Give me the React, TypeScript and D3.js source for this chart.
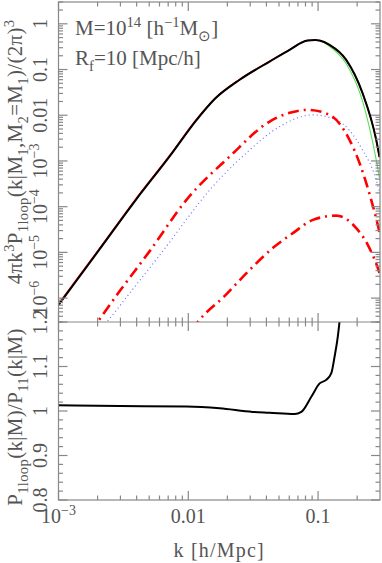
import React from "react";
import * as d3 from "d3";

// ---------- data ----------
// top panel: 4πk³P(k)/(2π)³ curves
const totalK = [0.001, 0.002084, 0.003945, 0.00723, 0.01161, 0.01606, 0.02489, 0.04236, 0.0604, 0.083, 0.095, 0.1028, 0.1225, 0.1648, 0.2198, 0.2805, 0.2972];
const totalV = [7.1e-7, 1.19e-5, 1.41e-4, 1.29e-3, 7.94e-3, 0.0229, 5.96e-2, 0.1496, 0.27, 0.4315, 0.44, 0.43, 0.3467, 0.163, 0.0309, 2.9e-3, 1.23e-3];

const redSolidK = [0.001, 0.002084, 0.003945, 0.00723, 0.01161, 0.01606, 0.02489, 0.04236, 0.0604, 0.083, 0.095, 0.1028, 0.1225, 0.1648, 0.2198, 0.2805, 0.2972];
const redSolidV = [7.5e-7, 1.25e-5, 1.48e-4, 1.35e-3, 8.3e-3, 0.0236, 6.1e-2, 0.152, 0.273, 0.433, 0.44, 0.43, 0.345, 0.161, 0.0305, 2.85e-3, 1.2e-3];

const greenK = [0.001, 0.002084, 0.003945, 0.00723, 0.01161, 0.01606, 0.02489, 0.04236, 0.0604, 0.083, 0.095, 0.1028, 0.1225, 0.1648, 0.2198, 0.2805, 0.2972];
const greenV = [7.1e-7, 1.19e-5, 1.41e-4, 1.29e-3, 7.94e-3, 0.0229, 5.96e-2, 0.1496, 0.27, 0.4315, 0.437, 0.4246, 0.322, 0.1334, 0.02065, 1.057e-3, 4.27e-4];

const dashUpperK = [0.001746, 0.002972, 0.005058, 0.009683, 0.02084, 0.04236, 0.0604, 0.0836, 0.1225, 0.1746, 0.2084, 0.2438, 0.2884, 0.2972];
const dashUpperV = [1.74e-7, 1.44e-6, 1.08e-5, 1.41e-4, 1.25e-3, 7.28e-3, 0.0113, 0.0131, 0.0102, 2.9e-3, 9.08e-4, 2.33e-4, 4.0e-5, 2.81e-5];

const dashLowerK = [0.01064, 0.01183, 0.0191, 0.02972, 0.04624, 0.06397, 0.0912, 0.138, 0.1968, 0.2415, 0.2884, 0.2972];
const dashLowerV = [2.01e-7, 3.01e-7, 1.117e-6, 4.14e-6, 1.34e-5, 2.63e-5, 5.14e-5, 6.38e-5, 3.39e-5, 1.46e-5, 4.58e-6, 3.56e-6];

const dottedK = [0.002084, 0.00236, 0.003548, 0.00604, 0.01542, 0.02805, 0.05058, 0.0912, 0.138, 0.2198, 0.2805, 0.2972];
const dottedV = [2.01e-7, 3.01e-7, 1.3e-6, 8.81e-6, 2.75e-4, 1.5e-3, 5.66e-3, 0.0102, 7.92e-3, 1.75e-3, 3.85e-4, 2.11e-4];

// bottom panel: ratio P1loop / P11
const ratioK = [0.001, 0.002972, 0.00968, 0.01746, 0.03133, 0.04236, 0.0659, 0.0743, 0.0887, 0.1028, 0.1156, 0.1265, 0.134, 0.1419, 0.1462, 0.1517];
const ratioV = [1.013, 1.011, 1.01, 1.006, 0.998, 0.996, 0.993, 0.998, 1.032, 1.062, 1.07, 1.085, 1.122, 1.167, 1.2, 1.25];

// tick labels
const xMajor = [0.001, 0.01, 0.1];
const xLabels = [["10", "−3"], ["0.01", ""], ["0.1", ""]];
const yTopMajor = [1, 0.1, 0.01, 1e-3, 1e-4, 1e-5, 1e-6];
const yTopLabels = [["1", ""], ["0.1", ""], ["0.01", ""], ["10", "−3"], ["10", "−4"], ["10", "−5"], ["10", "−6"]];
const yBotMajor = [0.8, 0.9, 1.0, 1.1, 1.2];
const yBotLabels = ["0.8", "0.9", "1", "1.1", "1.2"];

// ---------- layout ----------
const W = 382, H = 563;
const L = 58.5, R = 380, T = 2, MID = 322, B = 500;
const AX = "#888";
const TXT = "#555";
const FONT = "'Liberation Serif', 'Times New Roman', serif";

const x = d3.scaleLog().domain([1e-3, 0.3]).range([L, R]);
const yT = d3.scaleLog().domain([3e-7, 3]).range([MID, T]);
const yB = d3.scaleLinear().domain([0.8, 1.2]).range([B, MID]);

const zip = (ks: number[], vs: number[]) => ks.map((k, i) => [k, vs[i]] as [number, number]);

const lineTop = d3.line<[number, number]>().x(d => x(d[0])).y(d => yT(d[1])).curve(d3.curveMonotoneX);
const lineBot = d3.line<[number, number]>().x(d => x(d[0])).y(d => yB(d[1])).curve(d3.curveMonotoneX);

// minor ticks
const xMinor: number[] = [];
for (let e = -3; e <= -1; e++) for (let m = 2; m <= 9; m++) { const v = m * Math.pow(10, e); if (v <= 0.3) xMinor.push(v); }
const yTopMinor: number[] = [];
for (let e = -7; e <= 0; e++) for (let m = 2; m <= 9; m++) { const v = m * Math.pow(10, e); if (v >= 3e-7 && v <= 3) yTopMinor.push(v); }
const yBotMinor: number[] = d3.range(0.82, 1.2, 0.02).filter(v => Math.abs(v * 10 - Math.round(v * 10)) > 1e-6);

type Seg = { t: string; s?: number };
function RichText({ segs, size, ...rest }: { segs: Seg[]; size: number; [k: string]: any }) {
  let cur = 0;
  return (
    <text {...rest} fontSize={size}>
      {segs.map((sg, i) => {
        const lvl = sg.s || 0;
        const off = lvl === 1 ? -0.38 * size : lvl === -1 ? 0.3 * size : 0;
        const dy = off - cur;
        cur = off;
        return (
          <tspan key={i} dy={dy} fontSize={lvl === 0 ? size : size * 0.7}>
            {sg.t}
          </tspan>
        );
      })}
    </text>
  );
}

export default function App() {
  const MAJ = 9, MIN = 4.5;
  const ticks: JSX.Element[] = [];
  let n = 0;
  for (const v of xMajor) {
    const px = x(v);
    ticks.push(<line key={n++} x1={px} x2={px} y1={T} y2={T + MAJ} />);
    ticks.push(<line key={n++} x1={px} x2={px} y1={MID - MAJ} y2={MID + MAJ} />);
    ticks.push(<line key={n++} x1={px} x2={px} y1={B} y2={B - MAJ} />);
  }
  for (const v of xMinor) {
    const px = x(v);
    ticks.push(<line key={n++} x1={px} x2={px} y1={T} y2={T + MIN} />);
    ticks.push(<line key={n++} x1={px} x2={px} y1={MID - MIN} y2={MID + MIN} />);
    ticks.push(<line key={n++} x1={px} x2={px} y1={B} y2={B - MIN} />);
  }
  for (const v of yTopMajor) {
    const py = yT(v);
    ticks.push(<line key={n++} x1={L} x2={L + MAJ} y1={py} y2={py} />);
    ticks.push(<line key={n++} x1={R} x2={R - MAJ} y1={py} y2={py} />);
  }
  for (const v of yTopMinor) {
    const py = yT(v);
    ticks.push(<line key={n++} x1={L} x2={L + MIN} y1={py} y2={py} />);
    ticks.push(<line key={n++} x1={R} x2={R - MIN} y1={py} y2={py} />);
  }
  for (const v of yBotMajor) {
    const py = yB(v);
    ticks.push(<line key={n++} x1={L} x2={L + MAJ} y1={py} y2={py} />);
    ticks.push(<line key={n++} x1={R} x2={R - MAJ} y1={py} y2={py} />);
  }
  for (const v of yBotMinor) {
    const py = yB(v);
    ticks.push(<line key={n++} x1={L} x2={L + MIN} y1={py} y2={py} />);
    ticks.push(<line key={n++} x1={R} x2={R - MIN} y1={py} y2={py} />);
  }

  return (
    <svg width={W} height={H} style={{ position: "absolute", left: 0, top: 0, background: "#fff" }} fontFamily={FONT}>
      <defs>
        <clipPath id="cTop"><rect x={L} y={T} width={R - L} height={MID - T} /></clipPath>
        <clipPath id="cBot"><rect x={L} y={MID} width={R - L} height={B - MID} /></clipPath>
      </defs>

      {/* top panel curves */}
      <g clipPath="url(#cTop)" fill="none">
        <path d={lineTop(zip(greenK, greenV))!} stroke="#55e055" strokeWidth={1.1} />
        <path d={lineTop(zip(redSolidK, redSolidV))!} stroke="#ff0000" strokeWidth={1.4} />
        <path d={lineTop(zip(dottedK, dottedV))!} stroke="#7070ff" strokeWidth={1.2} strokeDasharray="1 3" />
        <path d={lineTop(zip(dashUpperK, dashUpperV))!} stroke="#ff0000" strokeWidth={2.6} strokeDasharray="11 5 2 5" />
        <path d={lineTop(zip(dashLowerK, dashLowerV))!} stroke="#ff0000" strokeWidth={2.6} strokeDasharray="11 5 2 5" />
        <path d={lineTop(zip(totalK, totalV))!} stroke="#000" strokeWidth={2} />
      </g>

      {/* bottom panel curve */}
      <g clipPath="url(#cBot)" fill="none">
        <path d={lineBot(zip(ratioK, ratioV))!} stroke="#000" strokeWidth={2} />
      </g>

      {/* frames */}
      <g stroke={AX} strokeWidth={1.2} fill="none">
        <rect x={L} y={T} width={R - L} height={B - T} />
        <line x1={L} x2={R} y1={MID} y2={MID} />
        {ticks}
      </g>

      {/* x tick labels */}
      <g fill={TXT} fontSize={20} textAnchor="middle">
        {xMajor.map((v, i) => (
          <text key={i} x={x(v)} y={523}>
            {xLabels[i][0]}
            {xLabels[i][1] && <tspan dy={-8} fontSize={14}>{xLabels[i][1]}</tspan>}
          </text>
        ))}
      </g>

      {/* y tick labels (rotated) */}
      <g fill={TXT} fontSize={20} textAnchor="middle">
        {yTopMajor.map((v, i) => (
          <text key={i} transform={`translate(47,${yT(v)}) rotate(-90)`}>
            {yTopLabels[i][0]}
            {yTopLabels[i][1] && <tspan dy={-8} fontSize={14}>{yTopLabels[i][1]}</tspan>}
          </text>
        ))}
        {yBotMajor.map((v, i) => (
          <text key={"b" + i} transform={`translate(47,${yB(v)}) rotate(-90)`}>
            {yBotLabels[i]}
          </text>
        ))}
      </g>

      {/* axis titles */}
      <text x={(L + R) / 2} y={557} fill={TXT} fontSize={20} textAnchor="middle" letterSpacing={1.2}>
        k [h/Mpc]
      </text>
      <RichText
        size={21}
        fill={TXT}
        textAnchor="middle"
        letterSpacing={0.3}
        transform={`translate(22,152) rotate(-90)`}
        segs={[
          { t: "4πk" }, { t: "3", s: 1 }, { t: "P" }, { t: "1loop", s: -1 }, { t: "(k|M" }, { t: "1", s: -1 },
          { t: ",M" }, { t: "2", s: -1 }, { t: "=M" }, { t: "1", s: -1 }, { t: ")/(2π)" }, { t: "3", s: 1 },
        ]}
      />
      <RichText
        size={21}
        fill={TXT}
        textAnchor="middle"
        letterSpacing={0.3}
        transform={`translate(22,417) rotate(-90)`}
        segs={[{ t: "P" }, { t: "1loop", s: -1 }, { t: "(k|M)/P" }, { t: "11", s: -1 }, { t: "(k|M)" }]}
      />

      {/* annotations */}
      <RichText
        size={21}
        fill={TXT}
        x={75}
        y={35}
        segs={[{ t: "M=10" }, { t: "14", s: 1 }, { t: " [h" }, { t: "−1", s: 1 }, { t: "M" }, { t: "⊙", s: -1 }, { t: "]" }]}
      />
      <RichText size={21} fill={TXT} x={75} y={65} segs={[{ t: "R" }, { t: "f", s: -1 }, { t: "=10 [Mpc/h]" }]} />
    </svg>
  );
}
